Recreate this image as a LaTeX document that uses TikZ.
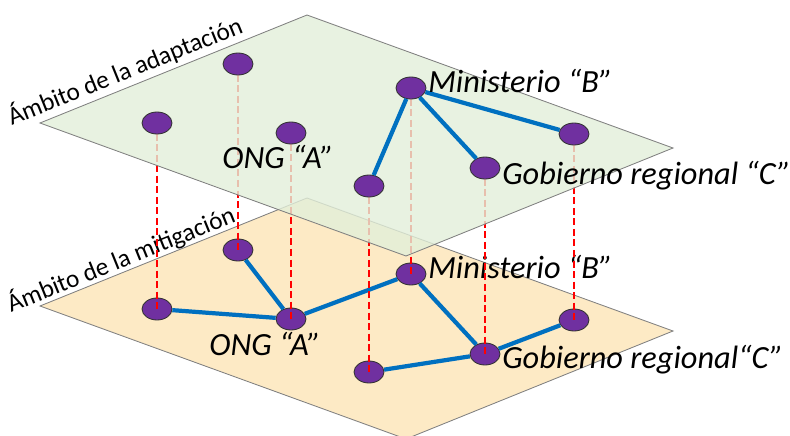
\documentclass[tikz,border=0pt]{standalone}
\usepackage{fontspec}
\setmainfont{Carlito}
\usetikzlibrary{shapes.geometric,backgrounds}
\definecolor{planegreen}{RGB}{226,239,217}
\definecolor{planetan}{RGB}{253,234,197}
\definecolor{orgpurple}{RGB}{112,48,160}
\definecolor{tieblue}{RGB}{0,112,192}
\pgfdeclarelayer{links}
\pgfdeclarelayer{upper}
\pgfsetlayers{main,links,upper}
\tikzset{
    org/.style={ellipse, draw=black!80, line width=0.6pt, fill=orgpurple, minimum width=0.75cm, minimum height=0.55cm, inner sep=0pt},
    tie/.style={tieblue, line width=3pt},
    link/.style={red, line width=1.4pt, dash pattern=on 5pt off 2.5pt},
    plane/.style={draw=gray, line width=0.6pt},
    who/.style={font=\fontsize{23}{27}\selectfont\itshape, inner sep=0pt},
    area/.style={font=\fontsize{18}{22}\selectfont, inner sep=0pt, rotate=22, anchor=base}
}

\begin{document}
\begin{tikzpicture}
        \useasboundingbox (0,0) rectangle (19.75,10.875);

        \draw[plane, fill=planetan] (1,3.225) -- (7.675,5.925) -- (16.825,2.6) -- (10.15,-0.1) -- cycle;
        \node[area] (mitig) at (3.1,4.2) {Ámbito de la mitigación};

        \node[org] (m1) at (3.925,3.15) {};
        \node[org] (m2) at (5.95,4.625) {};
        \node[org] (m3) at (7.275,2.9) {};
        \node[org] (m4) at (9.225,1.575) {};
        \node[org] (m5) at (10.275,4.025) {};
        \node[org] (m6) at (12.125,2.025) {};
        \node[org] (m7) at (14.35,2.875) {};

        \draw[tie] (m1) -- (m3);
        \draw[tie] (m2) -- (m3);
        \draw[tie] (m3) -- (m5);
        \draw[tie] (m5) -- (m6);
        \draw[tie] (m4) -- (m6);
        \draw[tie] (m6) -- (m7);

        \node[who, anchor=base] (ongA2) at (6.625,2.0) {ONG “A”};
        \node[who, anchor=base west] (minB2) at (10.7,3.925) {Ministerio “B”};
        \node[who, anchor=base west] (gobC2) at (12.55,1.675) {Gobierno regional“C”};

        \begin{pgfonlayer}{upper}
        \draw[plane, fill=planegreen, fill opacity=0.8] (1,7.8) -- (7.675,10.5) -- (16.825,7.175) -- (10.15,4.475) -- cycle;
        \node[area] (adapt) at (3.2,8.9) {Ámbito de la adaptación};

        \node[org] (n1) at (3.925,7.8) {};
        \node[org] (n2) at (5.95,9.275) {};
        \node[org] (n3) at (7.275,7.55) {};
        \node[org] (n4) at (9.225,6.225) {};
        \node[org] (n5) at (10.275,8.675) {};
        \node[org] (n6) at (12.125,6.675) {};
        \node[org] (n7) at (14.35,7.525) {};

        \draw[tie] (n5) -- (n4);
        \draw[tie] (n5) -- (n6);
        \draw[tie] (n5) -- (n7);

        \node[who, anchor=base] (ongA1) at (6.95,6.675) {ONG “A”};
        \node[who, anchor=base west] (minB1) at (10.7,8.55) {Ministerio “B”};
        \node[who, anchor=base west] (gobC1) at (12.55,6.275) {Gobierno regional “C”};
        \end{pgfonlayer}

        \begin{pgfonlayer}{links}
        \draw[link] (n1.center) -- (m1.center);
        \draw[link] (n2.center) -- (m2.center);
        \draw[link] (n3.center) -- (m3.center);
        \draw[link] (n4.center) -- (m4.center);
        \draw[link] (n5.center) -- (m5.center);
        \draw[link] (n6.center) -- (m6.center);
        \draw[link] (n7.center) -- (m7.center);
        \end{pgfonlayer}
\end{tikzpicture}
\end{document}
